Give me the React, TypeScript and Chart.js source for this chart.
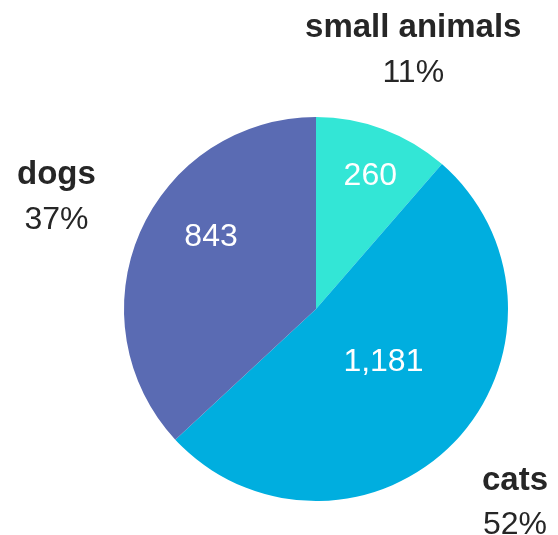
import React, { useEffect, useRef } from "react";
import { Chart, registerables } from "chart.js";

Chart.register(...registerables);

const categories = ["small animals", "cats", "dogs"];
const values = [260, 1181, 843];
const colors = ["#33E6D6", "#00AEDF", "#5A6BB3"];
// inner label tweaks: angle offset (deg) and radial fraction
const innerAngleOffset = [1.5, -7, 11.4];
const innerRadiusFrac = [0.755, 0.44, 0.667];
// outer label radial fraction
const outerRadiusFrac = [1.447, 1.442, 1.475];

const labelPlugin = {
  id: "labelPlugin",
  afterDraw(chart: any) {
    const ctx = chart.ctx;
    const meta = chart.getDatasetMeta(0);
    const total = values.reduce((a, b) => a + b, 0);
    ctx.save();
    meta.data.forEach((arc: any, i: number) => {
      const { x, y, startAngle, endAngle, outerRadius } = arc.getProps(
        ["x", "y", "startAngle", "endAngle", "outerRadius"],
        true
      );
      const mid = (startAngle + endAngle) / 2;
      // inner value
      const a = mid + (innerAngleOffset[i] * Math.PI) / 180;
      const d = outerRadius * innerRadiusFrac[i];
      ctx.fillStyle = "#ffffff";
      ctx.font = "32px 'Liberation Sans', Arial, sans-serif";
      ctx.textAlign = "center";
      ctx.textBaseline = "middle";
      ctx.fillText(values[i].toLocaleString("en-US"), x + d * Math.cos(a), y + d * Math.sin(a) + 2);
      // outer label
      const od = outerRadius * outerRadiusFrac[i];
      const ox = x + od * Math.cos(mid);
      const oy = y + od * Math.sin(mid);
      ctx.fillStyle = "#262626";
      ctx.font = "bold 33px 'Liberation Sans', Arial, sans-serif";
      ctx.fillText(categories[i], ox, oy - 21);
      ctx.font = "32px 'Liberation Sans', Arial, sans-serif";
      ctx.fillText(Math.round((values[i] / total) * 100) + "%", ox, oy + 24);
    });
    ctx.restore();
  },
};

export default function App() {
  const ref = useRef<HTMLCanvasElement>(null);
  useEffect(() => {
    if (!ref.current) return;
    const chart = new Chart(ref.current, {
      type: "pie",
      data: {
        labels: categories,
        datasets: [
          {
            data: values,
            backgroundColor: colors,
            borderWidth: 0,
          },
        ],
      },
      options: {
        responsive: false,
        animation: false,
        layout: { padding: { left: 124, right: 50, top: 117, bottom: 34 } },
        plugins: {
          legend: { display: false },
          tooltip: { enabled: false },
        },
      },
      plugins: [labelPlugin],
    });
    return () => chart.destroy();
  }, []);
  return (
    <div style={{ position: "fixed", left: 0, top: 0, width: 558, height: 535, background: "#fff" }}>
      <canvas ref={ref} width={558} height={535} />
    </div>
  );
}
